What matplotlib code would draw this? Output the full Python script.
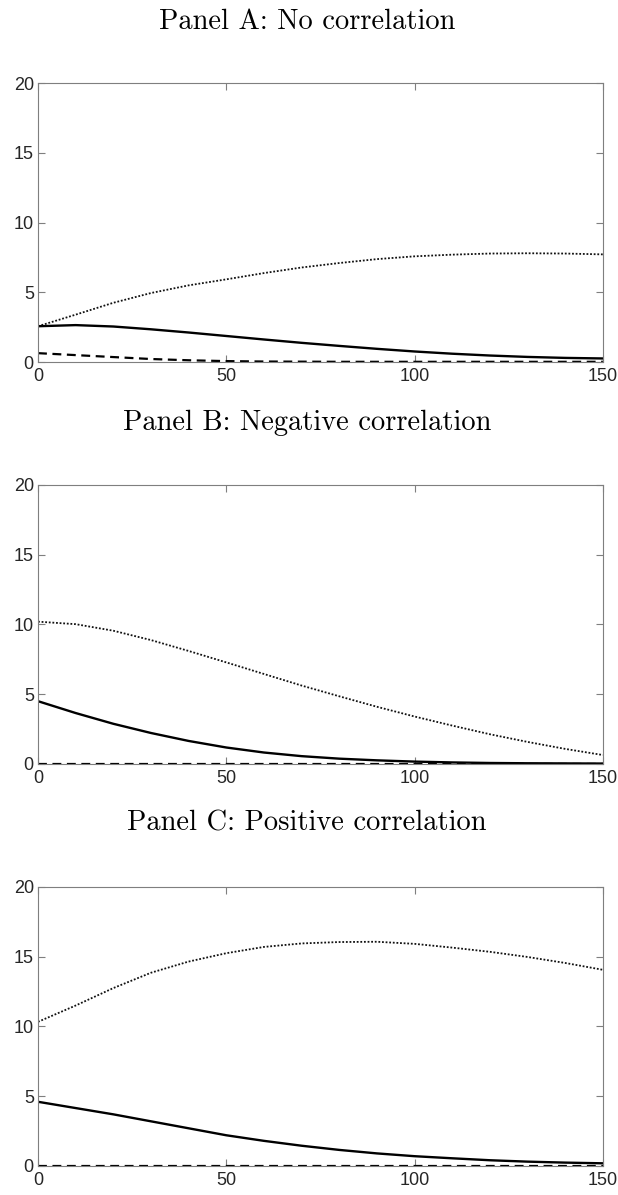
import numpy as np
import matplotlib
matplotlib.use("Agg")
import matplotlib.pyplot as plt

# horizon (x axis), sampled every 10 periods
x = [0, 10, 20, 30, 40, 50, 60, 70, 80, 90, 100, 110, 120, 130, 140, 150]

# Panel A: no correlation
a_solid = [2.57, 2.65, 2.55, 2.35, 2.12, 1.87, 1.62, 1.38, 1.16, 0.95, 0.76, 0.60, 0.47, 0.37, 0.30, 0.26]
a_dotted = [2.57, 3.40, 4.25, 4.95, 5.50, 5.93, 6.38, 6.78, 7.10, 7.38, 7.58, 7.70, 7.78, 7.80, 7.78, 7.72]
a_dashed = [0.64, 0.50, 0.36, 0.22, 0.13, 0.07, 0.04, 0.03, 0.02, 0.02, 0.02, 0.02, 0.02, 0.02, 0.02, 0.02]

# Panel B: negative correlation
b_solid = [4.50, 3.65, 2.88, 2.22, 1.65, 1.18, 0.82, 0.56, 0.38, 0.26, 0.17, 0.11, 0.07, 0.05, 0.04, 0.03]
b_dotted = [10.20, 10.02, 9.55, 8.88, 8.10, 7.28, 6.45, 5.62, 4.85, 4.10, 3.40, 2.75, 2.13, 1.58, 1.08, 0.64]
b_dashed = [0.03] * 16

# Panel C: positive correlation
c_solid = [4.60, 4.15, 3.70, 3.20, 2.70, 2.20, 1.80, 1.45, 1.15, 0.90, 0.70, 0.55, 0.41, 0.31, 0.24, 0.19]
c_dotted = [10.33, 11.50, 12.75, 13.85, 14.65, 15.25, 15.70, 15.95, 16.05, 16.07, 15.92, 15.65, 15.35, 14.98, 14.55, 14.06]
c_dashed = [0.03] * 16

titles = ["Panel A: No correlation", "Panel B: Negative correlation", "Panel C: Positive correlation"]
panels = [(a_solid, a_dotted, a_dashed), (b_solid, b_dotted, b_dashed), (c_solid, c_dotted, c_dashed)]

fig = plt.figure(figsize=(6.18, 11.95), dpi=100)

# axes boxes (fig fraction) and title heights
bottoms = [0.697, 0.3607, 0.0243]
title_y = [0.9816, 0.646, 0.3113]
edge = "#7f7f7f"

for k, (solid, dotted, dashed) in enumerate(panels):
    ax = fig.add_axes([0.0615, bottoms[k], 0.914, 0.2335])
    ax.plot(x, dotted, color="#111111", linestyle=(0, (1, 1)), linewidth=1.3)
    ax.plot(x, solid, color="black", linestyle="-", linewidth=1.7)
    ax.plot(x, dashed, color="black", linestyle=(0, (4, 2.5)), linewidth=1.6)

    ax.set_xlim(0, 150); ax.set_ylim(0, 20)
    ax.set_xticks([0, 50, 100, 150]); ax.set_yticks([0, 5, 10, 15, 20])
    ax.tick_params(direction="in", length=5, width=0.8, color=edge,
                   top=True, right=True, labelsize=13, pad=3)
    ax.tick_params(axis="x", pad=4)
    for lab in ax.get_xticklabels() + ax.get_yticklabels():
        lab.set_fontfamily("Liberation Sans")
        lab.set_color("#262626")
    for s in ax.spines.values():
        s.set_color(edge); s.set_linewidth(0.8)

    fig.text(0.497, title_y[k], titles[k], ha="center", va="center",
             fontsize=20.5, fontfamily="cmr10")

fig.savefig("out.png", dpi=100)
